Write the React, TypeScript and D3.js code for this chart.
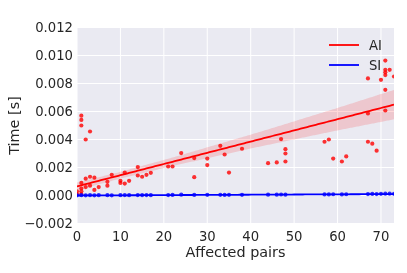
import React from 'react';
import * as d3 from 'd3';

// AI timings: [affected pairs, time in s]
const aiPoints: [number, number][] = [
  [0, 0.0003], [0, 0.0001],
  [1, 0.0057], [1, 0.0054], [1, 0.005], [1, 0.0009], [1, 0.0005], [1, 0.0003], [1, 0.0001],
  [2, 0.004], [2, 0.0012], [2, 0.0006],
  [3, 0.00457], [3, 0.00134], [3, 0.0007],
  [4, 0.00127], [4, 0.0004], [5, 0.0006],
  [7, 0.00098], [7, 0.0007], [8, 0.00148],
  [10, 0.00105], [10, 0.0009], [11, 0.00164], [11, 0.00085], [12, 0.00105],
  [14, 0.00203], [14, 0.00143], [15, 0.00134], [16, 0.00148], [17, 0.00162],
  [21, 0.00207], [22, 0.00207], [24, 0.00303],
  [27, 0.00267], [27, 0.00131], [30, 0.00264], [30, 0.00217],
  [33, 0.00355], [34, 0.00293], [35, 0.00164], [38, 0.00334],
  [44, 0.00231], [46, 0.00236], [47, 0.00403],
  [48, 0.00331], [48, 0.003], [48, 0.00243],
  [57, 0.00384], [58, 0.004], [59, 0.00264], [61, 0.00243], [62, 0.00279],
  [67, 0.00836], [67, 0.00586], [67, 0.00384], [68, 0.0037], [69, 0.0032],
  [70, 0.00826],
  [71, 0.00964], [71, 0.00898], [71, 0.0088], [71, 0.0086], [71, 0.00755], [71, 0.00607],
  [72, 0.00898], [73, 0.0085],
];

// SI timings
const siPoints: [number, number][] = [
  [0, 0.00001], [1, 0.00002], [2, 0.00001], [3, 0.00002], [4, 0.00001], [5, 0.00002],
  [7, 0.00002], [8, 0.00001], [10, 0.00002], [11, 0.00003], [12, 0.00002],
  [14, 0.00003], [15, 0.00002], [16, 0.00003], [17, 0.00002], [21, 0.00003],
  [22, 0.00004], [24, 0.00006], [27, 0.00004], [30, 0.00005], [33, 0.00005],
  [34, 0.00004], [35, 0.00005], [38, 0.00005], [44, 0.00006], [46, 0.00006],
  [47, 0.00007], [48, 0.00006], [57, 0.00008], [58, 0.00008], [59, 0.00009],
  [61, 0.00008], [62, 0.00009], [67, 0.0001], [68, 0.00011], [69, 0.0001],
  [70, 0.00012], [71, 0.00013], [72, 0.00013], [73, 0.00012],
];

// regression lines as shown (intercept, slope) and the half width of the
// confidence band read at a few x positions
const aiFit = [0.00065, 0.00008];
const siFit = [0.0, 0.0000014];
const bandX = [0, 10, 22, 42, 60, 73];
const aiBand = [0.00027, 0.00024, 0.0003, 0.00052, 0.0008, 0.00105];
const siBand = [0.00002, 0.00001, 0.00001, 0.00002, 0.00003, 0.00004];

const xTicks = [0, 10, 20, 30, 40, 50, 60, 70];
const yTicks = [-0.002, 0, 0.002, 0.004, 0.006, 0.008, 0.01, 0.012];
const seriesNames = ['AI', 'SI'];
const seriesColors = ['#ff0000', '#0000ff'];

const W = 407;
const H = 273;
const margin = { left: 77, right: 13, top: 27.5, bottom: 49.5 };

export default function App() {
  const x = d3.scaleLinear().domain([0, 73]).range([margin.left, W - margin.right]);
  const y = d3.scaleLinear().domain([-0.002, 0.012]).range([H - margin.bottom, margin.top]);
  const xs = d3.range(0, 73.01, 0.5);
  const fmt = d3.format('.3f');

  const series = [aiPoints, siPoints];
  const fits = [aiFit, siFit];
  const bands = [aiBand, siBand];

  const rows = fits.map((f, i) => {
    const half = d3.scaleLinear().domain(bandX).range(bands[i]);
    return xs.map(v => {
      const yy = f[0] + f[1] * v;
      return { x: v, y: yy, lo: yy - half(v), hi: yy + half(v) };
    });
  });

  const area = d3.area<{ x: number; lo: number; hi: number }>()
    .x(d => x(d.x)).y0(d => y(d.lo)).y1(d => y(d.hi))
    .curve(d3.curveMonotoneX);
  const line = d3.line<{ x: number; y: number }>().x(d => x(d.x)).y(d => y(d.y));

  const font = 'DejaVu Sans, sans-serif';
  const ink = '#262626';

  return (
    <svg width={W} height={H} style={{ position: 'fixed', left: 0, top: 0, fontFamily: font }}>
      <defs>
        <clipPath id="plot">
          <rect x={margin.left} y={margin.top} width={W - margin.left - margin.right} height={H - margin.top - margin.bottom} />
        </clipPath>
      </defs>
      <rect x={margin.left} y={margin.top} width={W - margin.left - margin.right} height={H - margin.top - margin.bottom} fill="#eaeaf2" />
      {xTicks.map(t => (
        <line key={'gx' + t} x1={x(t)} x2={x(t)} y1={margin.top} y2={H - margin.bottom} stroke="#fff" strokeWidth={1} />
      ))}
      {yTicks.map(t => (
        <line key={'gy' + t} x1={margin.left} x2={W - margin.right} y1={y(t)} y2={y(t)} stroke="#fff" strokeWidth={1} />
      ))}
      <g clipPath="url(#plot)">
        {series.map((pts, i) => (
          <g key={'s' + i}>
            {pts.map((p, j) => (
              <circle key={j} cx={x(p[0])} cy={y(p[1])} r={2.1} fill={seriesColors[i]} fillOpacity={0.8} />
            ))}
            <path d={area(rows[i]) || ''} fill={seriesColors[i]} fillOpacity={0.15} />
            <path d={line(rows[i]) || ''} fill="none" stroke={seriesColors[i]} strokeWidth={1.8} />
          </g>
        ))}
      </g>
      {xTicks.map(t => (
        <text key={'tx' + t} x={x(t)} y={H - margin.bottom + 17} textAnchor="middle" fontSize={13.2} fill={ink}>{t}</text>
      ))}
      {yTicks.map(t => (
        <text key={'ty' + t} x={margin.left - 4} y={y(t)} dy="0.35em" textAnchor="end" fontSize={13.2} fill={ink}>{fmt(t)}</text>
      ))}
      <text x={(margin.left + W - margin.right) / 2} y={H - 16} textAnchor="middle" fontSize={14.4} fill={ink}>Affected pairs</text>
      <text transform={`translate(18.5,${(margin.top + H - margin.bottom) / 2}) rotate(-90)`} textAnchor="middle" fontSize={14.4} fill={ink}>Time [s]</text>
      {seriesNames.map((name, i) => (
        <g key={'lg' + name} transform={`translate(329,${45 + i * 20})`}>
          <line x1={0} x2={30} y1={0} y2={0} stroke={seriesColors[i]} strokeWidth={1.8} />
          <text x={40} y={0} dy="0.35em" fontSize={13.2} fill={ink}>{name}</text>
        </g>
      ))}
    </svg>
  );
}
